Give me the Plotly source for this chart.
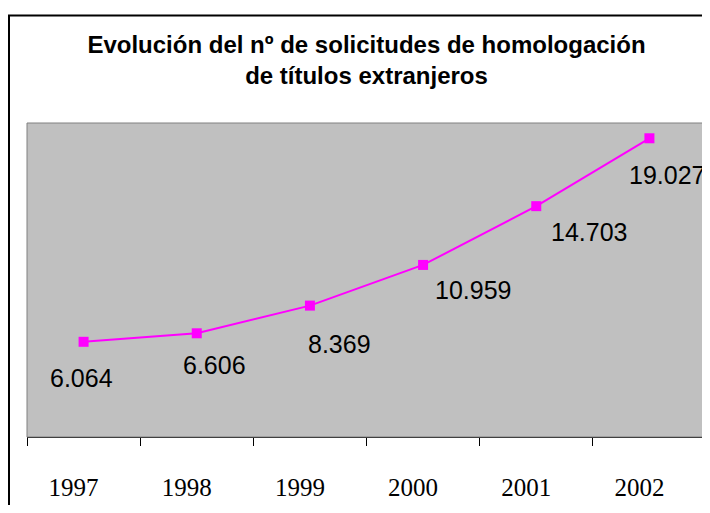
import plotly.graph_objects as go

years = ["1997", "1998", "1999", "2000", "2001", "2002"]
solicitudes = [6064, 6606, 8369, 10959, 14703, 19027]
labels = ["6.064", "6.606", "8.369", "10.959", "14.703", "19.027"]

# label offsets in pixels (style)
label_dx = [-2, 18, 30, 50, 53, 18]
label_dy = [36, 32, 38, 25, 26, 37]

W, H = 702, 497
ML, MR, MT, MB = 19, 4, 115, 61
pw, ph = W - ML - MR, H - MT - MB

fig = go.Figure()
fig.add_trace(go.Scatter(
    x=years, y=solicitudes, mode="lines+markers",
    line=dict(color="#FF00FF", width=2),
    marker=dict(symbol="square", size=10, color="#FF00FF"),
    showlegend=False, hoverinfo="skip",
))

for i, (v, t, dx, dy) in enumerate(zip(solicitudes, labels, label_dx, label_dy)):
    fig.add_annotation(xref="x", yref="y", x=i, y=v, text=t, showarrow=False,
                       xshift=dx, yshift=-dy,
                       font=dict(family="Liberation Sans, Arial", size=25, color="#000000"))

def px_x(p):
    return (p - ML) / pw

def px_y(p):
    return (H - MB - p) / ph

# outer chart frame
fig.add_shape(type="rect", xref="paper", yref="paper",
              x0=px_x(1), x1=px_x(730), y0=px_y(530), y1=px_y(5),
              line=dict(color="#000000", width=2), fillcolor="rgba(0,0,0,0)", layer="above")
# plot area border
fig.add_shape(type="rect", xref="paper", yref="paper", x0=0, x1=1, y0=0, y1=1,
              line=dict(color="#808080", width=1), fillcolor="rgba(0,0,0,0)", layer="above")

fig.update_layout(
    width=W, height=H,
    margin=dict(l=ML, r=MR, t=MT, b=MB),
    paper_bgcolor="#FFFFFF", plot_bgcolor="#C0C0C0",
    title=dict(text="Evolución del nº de solicitudes de homologación<br>de títulos extranjeros",
               x=0.5, xref="paper", xanchor="center",
               y=1 - 45 / H, yref="container", yanchor="middle",
               font=dict(family="Liberation Sans, Arial", size=24, color="#000000", weight="bold")),
    xaxis=dict(type="category", range=[-0.5, 5.5], tickson="boundaries",
               ticks="outside", ticklen=8, tickcolor="#000000", tickwidth=1,
               showline=True, linecolor="#000000", linewidth=1,
               showgrid=False, zeroline=False,
               ticklabelstandoff=28, ticklabelshift=-10,
               tickfont=dict(family="Liberation Serif, Times New Roman", size=25, color="#000000")),
    yaxis=dict(range=[0, 20000], visible=False, showgrid=False, zeroline=False),
)

fig.write_html("out.html")
